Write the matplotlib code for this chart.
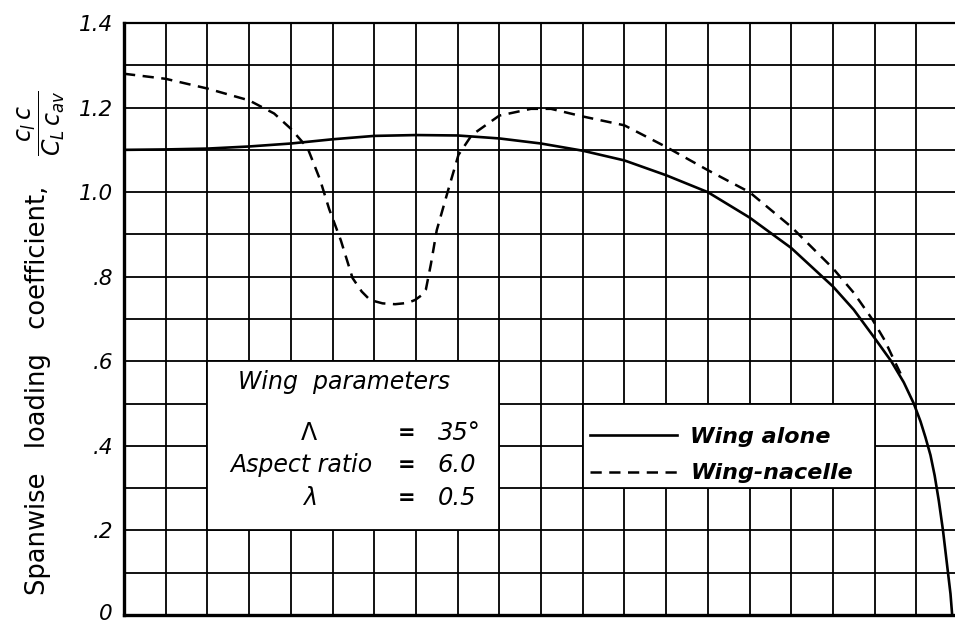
import numpy as np
import matplotlib
matplotlib.use('Agg')
import matplotlib.pyplot as plt
from matplotlib.patches import Rectangle
from matplotlib.transforms import ScaledTranslation

# spanwise station (fraction of semispan) vs loading coefficient
x_alone = [0.0, 0.05, 0.1, 0.15, 0.2, 0.25, 0.3, 0.35, 0.4, 0.45, 0.5, 0.55, 0.6,
           0.65, 0.7, 0.75, 0.8, 0.85, 0.875, 0.9, 0.92, 0.935, 0.947, 0.955, 0.961,
           0.967, 0.972, 0.977, 0.982, 0.988, 0.991, 0.993]
y_alone = [1.100, 1.101, 1.103, 1.108, 1.115, 1.125, 1.133, 1.135, 1.134, 1.127,
           1.115, 1.098, 1.075, 1.040, 1.000, 0.940, 0.868, 0.777, 0.722, 0.655,
           0.600, 0.550, 0.500, 0.458, 0.420, 0.378, 0.330, 0.270, 0.200, 0.100,
           0.050, 0.0]

x_nacelle = [0.0, 0.05, 0.1, 0.15, 0.18, 0.2, 0.22, 0.235, 0.246, 0.26, 0.274, 0.285,
             0.295, 0.31, 0.325, 0.34, 0.349, 0.356, 0.362, 0.368, 0.375, 0.389,
             0.401, 0.417, 0.45, 0.488, 0.512, 0.55, 0.6, 0.65, 0.7,
             0.75, 0.8, 0.85, 0.875, 0.897, 0.912, 0.924, 0.935]
y_nacelle = [1.28, 1.268, 1.245, 1.217, 1.186, 1.15, 1.105, 1.03, 0.96, 0.886, 0.797,
             0.765, 0.745, 0.737, 0.735, 0.738, 0.745, 0.755, 0.77, 0.83, 0.91,
             1.007, 1.088, 1.135, 1.181, 1.197, 1.197, 1.179, 1.158, 1.107, 1.052,
             1.0, 0.918, 0.82, 0.762, 0.70, 0.65, 0.60, 0.555]

yticks = [0, 0.2, 0.4, 0.6, 0.8, 1.0, 1.2, 1.4]
yticklabels = ['0', '.2', '.4', '.6', '.8', '1.0', '1.2', '1.4']

params_names = ['$\\mathit{\\Lambda}$', 'Aspect ratio', '$\\mathit{\\lambda}$']
params_values = ['35°', '6.0', '0.5']

plt.rcParams['font.family'] = ['DejaVu Sans']
plt.rcParams['mathtext.fontset'] = 'dejavusans'

fig = plt.figure(figsize=(9.55, 6.25), dpi=100)
ax = fig.add_axes([124/955, 10/625, 834/955, 592/625])

ax.set_xlim(0, 1)
ax.set_ylim(0, 1.4)
ax.set_xticks(np.arange(0, 1.0001, 0.05))
ax.set_xticklabels([])
ax.set_yticks(yticks)
ax.set_yticklabels(yticklabels, fontsize=15.5, style='italic')
ax.set_yticks(np.arange(0.1, 1.4, 0.2), minor=True)
ax.tick_params(which='both', length=0, pad=8)
# nudge the "0" up a little so it stays inside the figure
zero_lbl = ax.yaxis.get_major_ticks()[0].label1
zero_lbl.set_transform(zero_lbl.get_transform() + ScaledTranslation(0, 2.5/72, fig.dpi_scale_trans))
ax.set_axisbelow(True)
ax.grid(True, which='both', color='black', lw=1.3)
for side in ['left', 'bottom']:
    ax.spines[side].set_linewidth(2.4)
ax.spines['top'].set_linewidth(1.6)

# white boxes for the annotation and the legend
ax.add_patch(Rectangle((0.1, 0.2), 0.35, 0.4, facecolor='white', edgecolor='black',
                       lw=1.3, zorder=1.5))
ax.add_patch(Rectangle((0.55, 0.3), 0.35, 0.2, facecolor='white', edgecolor='black',
                       lw=1.3, zorder=1.5))

ax.plot(x_alone, y_alone, color='black', lw=1.9, zorder=3, label='Wing alone')
ax.plot(x_nacelle, y_nacelle, color='black', lw=1.8, dashes=(4.5, 3.0), zorder=3,
        label='Wing-nacelle')

# y axis title: words plus the fraction drawn separately
fig.text(38/955, 1 - 595/625, 'Spanwise   loading   coefficient,', fontsize=18.5,
         rotation=90, ha='center', va='bottom')
fig.text(41/955, 1 - 123/625, '$\\dfrac{c_l\\,c}{C_L\\,c_{av}}$', fontsize=17,
         rotation=90, ha='center', va='center')

ax.text(0.264, 0.551, 'Wing  parameters', fontsize=17, style='italic',
        ha='center', va='center', zorder=4)
row_y = [0.43, 0.355, 0.277]
for name, val, yy in zip(params_names, params_values, row_y):
    ax.text(0.222 if name != 'Aspect ratio' else 0.213, yy, name, fontsize=17,
            style='italic', ha='center', va='center', zorder=4)
    ax.text(0.339, yy, '=', fontsize=15, fontweight='bold', ha='center', va='center', zorder=4)
    ax.text(0.376, yy, val, fontsize=17.5, style='italic', ha='left', va='center', zorder=4)

leg = ax.legend(loc='upper left', bbox_to_anchor=(0.559, 0.445),
                bbox_transform=ax.transData, frameon=False, borderpad=0,
                borderaxespad=0, handlelength=3.9, handletextpad=0.6,
                labelspacing=0.75, prop={'size': 16, 'style': 'italic', 'weight': 'bold'})
leg.set_zorder(5)

fig.savefig('out.png', dpi=100)
